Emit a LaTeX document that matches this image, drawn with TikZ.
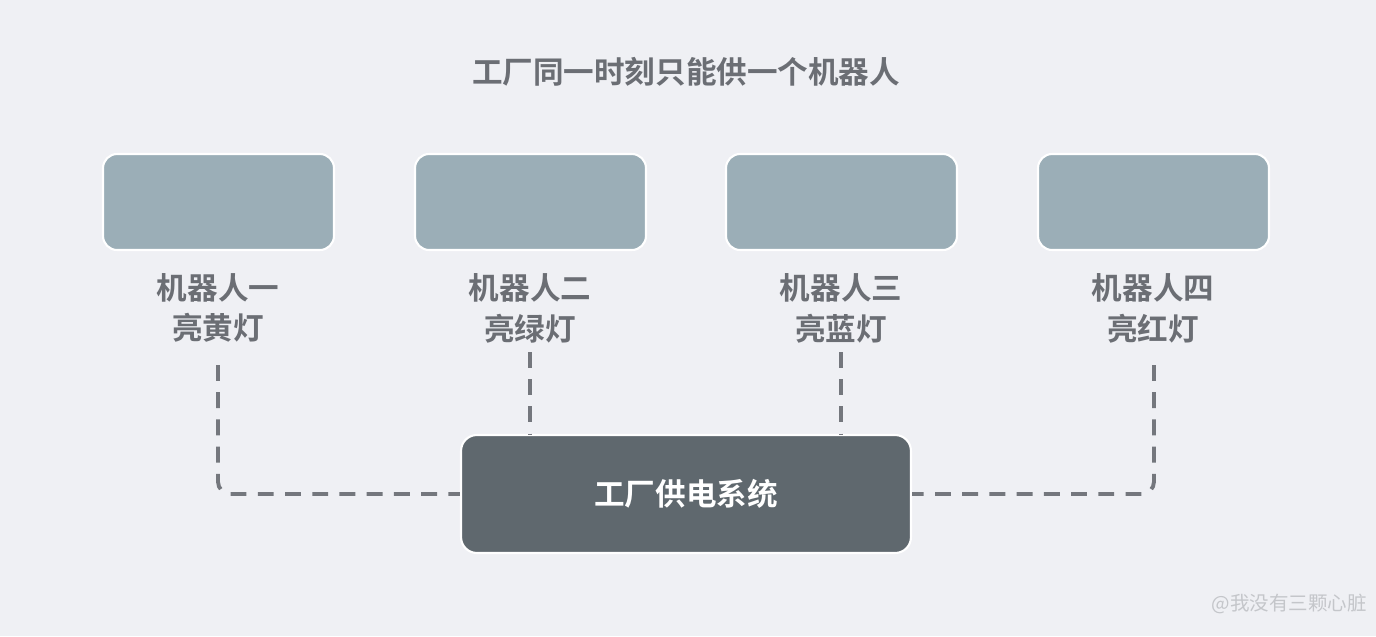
\documentclass[tikz,border=0pt]{standalone}
\usepackage{fontspec}
\newfontfamily\cjk{Noto Sans CJK SC}
\newfontfamily\cjkb{Noto Sans CJK SC}[UprightFont=* Bold]
\definecolor{bg}{HTML}{EFF0F4}
\definecolor{robot}{HTML}{9BAEB7}
\definecolor{power}{HTML}{5F686E}
\definecolor{txt}{HTML}{6B6E74}
\definecolor{dash}{HTML}{74777D}
\definecolor{wm}{HTML}{C4C6CA}
\tikzset{
  robotbox/.style={draw=white,line width=1.2pt,fill=robot,rounded corners=8pt,minimum width=4.62cm,minimum height=1.92cm,inner sep=0pt},
  label/.style={text=txt,font=\cjkb\fontsize{17.4}{23.2}\selectfont,align=center},
  wire/.style={draw=dash,line width=2.2pt,dash pattern=on 9pt off 6.5pt,rounded corners=7pt}
}
\begin{document}
\begin{tikzpicture}[x=0.02cm,y=-0.02cm]
\fill[bg] (0,0) rectangle (1376,636);
\useasboundingbox (0,0) rectangle (1376,636);
\node[label] (title) at (686,72) {工厂同一时刻只能供一个机器人};
\node[robotbox] (r1) at (218.5,202) {};
\node[robotbox] (r2) at (530.5,202) {};
\node[robotbox] (r3) at (841.5,202) {};
\node[robotbox] (r4) at (1153.5,202) {};
\node[label] (l1) at (218,308) {机器人一\\亮黄灯};
\node[label] (l2) at (530,308) {机器人二\\亮绿灯};
\node[label] (l3) at (841,308) {机器人三\\亮蓝灯};
\node[label] (l4) at (1153,308) {机器人四\\亮红灯};
\node[draw=white,line width=1.2pt,fill=power,rounded corners=9pt,minimum width=9cm,minimum height=2.36cm,text=white,font=\cjkb\fontsize{17.4}{20}\selectfont] (p) at (686,494) {工厂供电系统};
\coordinate (a1) at (218,365);
\coordinate (a2) at (530,352);
\coordinate (a3) at (841,352);
\coordinate (a4) at (1154,365);
\draw[wire] (a1) |- (p.west);
\draw[wire] (a4) |- (p.east);
\draw[wire] (a2) -- (a2 |- p.north);
\draw[wire] (a3) -- (a3 |- p.north);
\node[text=wm,font=\cjk\fontsize{11.1}{13}\selectfont,anchor=east] (wmk) at (1373,604) {@我没有三颗心脏};
\end{tikzpicture}
\end{document}
